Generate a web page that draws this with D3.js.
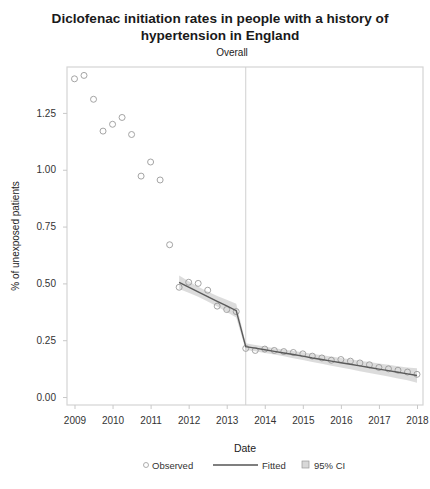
<!DOCTYPE html>
<html>
<head>
<meta charset="utf-8">
<script src="https://cdn.jsdelivr.net/npm/d3@7"></script>
<style>
  html, body { margin: 0; padding: 0; background: #fff; }
  svg { display: block; font-family: "Liberation Sans", Arial, sans-serif; }
</style>
</head>
<body>
<svg id="chart" width="430" height="489"></svg>
<script>
// Quarterly observation dates (decimal years)
const obsDates = [
  2009.00, 2009.25, 2009.50, 2009.75, 2010.00, 2010.25, 2010.50, 2010.75, 2011.00, 2011.25, 2011.50,
  2011.75, 2012.00, 2012.25, 2012.50, 2012.75, 2013.00, 2013.25,
  2013.50, 2013.75, 2014.00, 2014.25, 2014.50, 2014.75, 2015.00, 2015.25, 2015.50, 2015.75,
  2016.00, 2016.25, 2016.50, 2016.75, 2017.00, 2017.25, 2017.50, 2017.75, 2018.00
];
// Observed initiation rate (% of unexposed patients)
const obsValues = [
  1.40, 1.415, 1.31, 1.17, 1.20, 1.23, 1.155, 0.972, 1.034, 0.955, 0.67,
  0.483, 0.505, 0.500, 0.470, 0.400, 0.385, 0.376,
  0.214, 0.205, 0.211, 0.205, 0.200, 0.196, 0.190, 0.180, 0.172, 0.162,
  0.165, 0.158, 0.150, 0.142, 0.130, 0.124, 0.118, 0.110, 0.100
];
// Segmented regression fit (from late 2011 onwards)
const fitDates = [
  2011.75, 2012.00, 2012.25, 2012.50, 2012.75, 2013.00, 2013.25,
  2013.50, 2013.75, 2014.00, 2014.25, 2014.50, 2014.75, 2015.00, 2015.25, 2015.50, 2015.75,
  2016.00, 2016.25, 2016.50, 2016.75, 2017.00, 2017.25, 2017.50, 2017.75, 2018.00
];
const fitValues = [
  0.505, 0.484, 0.463, 0.442, 0.421, 0.401, 0.380,
  0.222, 0.215, 0.208, 0.201, 0.194, 0.187, 0.180, 0.172, 0.165, 0.158,
  0.151, 0.144, 0.137, 0.130, 0.123, 0.116, 0.109, 0.102, 0.095
];
const ciLower = [
  0.475, 0.459, 0.441, 0.420, 0.398, 0.374, 0.350,
  0.207, 0.201, 0.194, 0.187, 0.179, 0.171, 0.163, 0.154, 0.146, 0.138,
  0.130, 0.122, 0.114, 0.106, 0.098, 0.090, 0.082, 0.074, 0.063
];
const ciUpper = [
  0.535, 0.509, 0.485, 0.464, 0.444, 0.428, 0.410,
  0.237, 0.229, 0.222, 0.215, 0.209, 0.203, 0.197, 0.190, 0.184, 0.178,
  0.172, 0.166, 0.160, 0.154, 0.148, 0.142, 0.136, 0.130, 0.127
];
const interventionDate = 2013.5;
const xTickValues = [2009, 2010, 2011, 2012, 2013, 2014, 2015, 2016, 2017, 2018];
const yTickValues = [0, 0.25, 0.5, 0.75, 1.0, 1.25];

const titleLines = ["Diclofenac initiation rates in people with a history of", "hypertension in England"];
const subtitle = "Overall";
const xLabel = "Date";
const yLabel = "% of unexposed patients";
const legendLabels = ["Observed", "Fitted", "95% CI"];

const svg = d3.select("#chart");
const frame = { left: 67, right: 423, top: 67, bottom: 405 };

const x = d3.scaleLinear().domain([2008.803, 2018.158]).range([frame.left, frame.right]);
const y = d3.scaleLinear().domain([-0.035, 1.452]).range([frame.bottom, frame.top]);

// Titles
svg.append("text").attr("x", 220).attr("y", 23).attr("text-anchor", "middle")
  .attr("font-size", 13.6).attr("font-weight", "bold").attr("fill", "#1a1a1a").text(titleLines[0]);
svg.append("text").attr("x", 220).attr("y", 40).attr("text-anchor", "middle")
  .attr("font-size", 13.6).attr("font-weight", "bold").attr("fill", "#1a1a1a").text(titleLines[1]);
svg.append("text").attr("x", 232).attr("y", 56).attr("text-anchor", "middle")
  .attr("font-size", 10).attr("fill", "#222").text(subtitle);

// Plot frame
svg.append("rect").attr("x", frame.left).attr("y", frame.top)
  .attr("width", frame.right - frame.left).attr("height", frame.bottom - frame.top)
  .attr("fill", "none").attr("stroke", "#d4d4d4").attr("stroke-width", 1.2);

// Axes
const xAxis = svg.append("g").attr("transform", `translate(0,${frame.bottom})`)
  .call(d3.axisBottom(x).tickValues(xTickValues).tickFormat(d3.format("d")).tickSize(4).tickPadding(8));
const yAxis = svg.append("g").attr("transform", `translate(${frame.left},0)`)
  .call(d3.axisLeft(y).tickValues(yTickValues).tickFormat(d3.format(".2f")).tickSize(4).tickPadding(7));
[xAxis, yAxis].forEach(g => {
  g.select(".domain").remove();
  g.selectAll(".tick line").attr("stroke", "#c8c8c8");
  g.selectAll(".tick text").attr("fill", "#333").attr("font-size", 10)
    .attr("font-family", "Liberation Sans, Arial, sans-serif");
});

// Axis titles
svg.append("text").attr("x", 245).attr("y", 452).attr("text-anchor", "middle")
  .attr("font-size", 10.5).attr("fill", "#222").text(xLabel);
svg.append("text").attr("transform", `translate(19,${(frame.top + frame.bottom) / 2}) rotate(-90)`)
  .attr("text-anchor", "middle").attr("font-size", 10).attr("fill", "#222").text(yLabel);

// Intervention reference line
svg.append("line").attr("x1", x(interventionDate)).attr("x2", x(interventionDate))
  .attr("y1", frame.top).attr("y2", frame.bottom)
  .attr("stroke", "#d0d0d0").attr("stroke-width", 1);

// Confidence band
const fitRows = fitDates.map((d, i) => ({ d, v: fitValues[i], lo: ciLower[i], hi: ciUpper[i] }));
svg.append("path").datum(fitRows)
  .attr("d", d3.area().x(r => x(r.d)).y0(r => y(r.lo)).y1(r => y(r.hi)))
  .attr("fill", "#c4c4c4").attr("fill-opacity", 0.6).attr("stroke", "none");

// Observed points
const obsRows = obsDates.map((d, i) => ({ d, v: obsValues[i] }));
svg.append("g").selectAll("circle").data(obsRows).join("circle")
  .attr("cx", r => x(r.d)).attr("cy", r => y(r.v)).attr("r", 3)
  .attr("fill", "none").attr("stroke", "#9a9a9a").attr("stroke-width", 0.9);

// Fitted line
svg.append("path").datum(fitRows)
  .attr("d", d3.line().x(r => x(r.d)).y(r => y(r.v)))
  .attr("fill", "none").attr("stroke", "#5a5a5a").attr("stroke-width", 1.4);

// Legend
const leg = svg.append("g").attr("font-size", 9.5).attr("fill", "#333");
leg.append("circle").attr("cx", 146).attr("cy", 465).attr("r", 2.5)
  .attr("fill", "none").attr("stroke", "#999").attr("stroke-width", 0.8);
leg.append("text").attr("x", 152).attr("y", 468.5).text(legendLabels[0]);
leg.append("line").attr("x1", 213).attr("x2", 258).attr("y1", 465).attr("y2", 465)
  .attr("stroke", "#555").attr("stroke-width", 1.4);
leg.append("text").attr("x", 262).attr("y", 468.5).text(legendLabels[1]);
leg.append("rect").attr("x", 302).attr("y", 461).attr("width", 7).attr("height", 7)
  .attr("fill", "#d8d8d8").attr("stroke", "#999").attr("stroke-width", 0.7);
leg.append("text").attr("x", 314).attr("y", 468.5).text(legendLabels[2]);
</script>
</body>
</html>
